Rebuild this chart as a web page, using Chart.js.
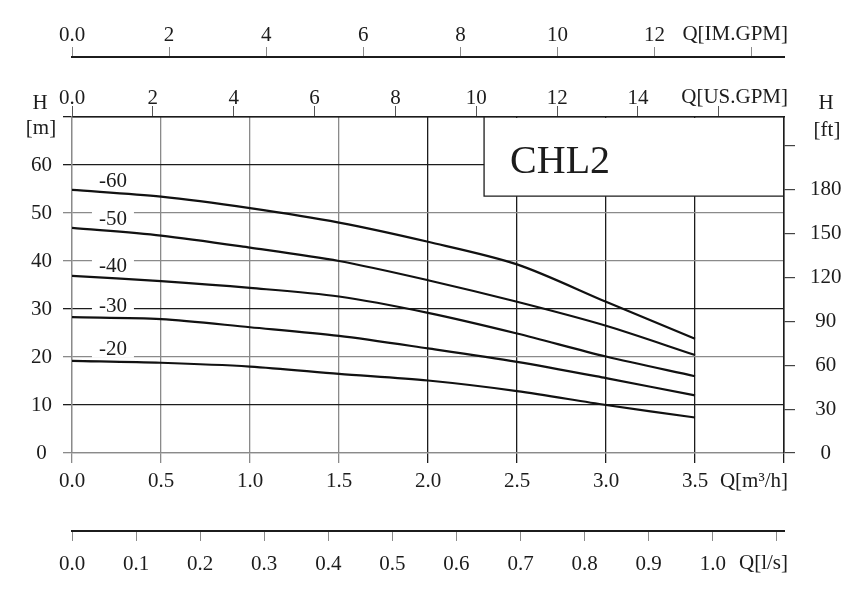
<!DOCTYPE html>
<html>
<head>
<meta charset="utf-8">
<script src="https://cdn.jsdelivr.net/npm/chart.js@4.4.1/dist/chart.umd.min.js"></script>
<style>
    body { margin: 0; background: #fff; }
    #wrap { width: 856px; height: 594px; }
</style>
</head>
<body>
<div id="wrap"><canvas id="pumpChart" width="856" height="594"></canvas></div>
<script>
// flow in m3/h, head in m
const flowQ = [0, 0.5, 1.0, 1.5, 2.0, 2.5, 3.0, 3.5];
const head60 = [54.8, 53.4, 51.0, 48.0, 44.0, 39.3, 31.5, 23.8];
const head50 = [46.9, 45.3, 42.8, 40.0, 36.0, 31.5, 26.5, 20.4];
const head40 = [36.9, 35.8, 34.4, 32.6, 29.2, 24.9, 20.1, 16.0];
const head30 = [28.3, 27.9, 26.2, 24.4, 21.8, 19.0, 15.6, 12.0];
const head20 = [19.2, 18.8, 18.0, 16.5, 15.1, 12.9, 10.0, 7.4];
const curveNames = ['-60', '-50', '-40', '-30', '-20'];
const modelName = 'CHL2';

const qMax = 4.0;
const hMax = 70;
// unit conversions
const toUSGPM = 4.4029;
const toIMGPM = 3.6662;
const toLs = 1 / 3.6;
const toFt = 3.28084;

const serif = '"Liberation Serif", "Times New Roman", serif';
const ink = '#1c1c1c';
const gray = '#8a8a8a';

function fixHeight(h) {
    return function (scale) { scale.height = h; };
}
function fixWidth(w) {
    return function (scale) { scale.width = w; };
}

// box with model name, curve labels and unit captions
const pumpDecor = {
    id: 'pumpDecor',
    beforeDatasetsDraw(chart) {
        const { ctx, chartArea, scales } = chart;
        const left = scales.x.getPixelForValue(2.315);
        const bottom = scales.y.getPixelForValue(53.5);
        ctx.save();
        ctx.fillStyle = '#fff';
        ctx.fillRect(left, chartArea.top + 1, chartArea.right - left - 1, bottom - chartArea.top - 1);
        ctx.strokeStyle = ink;
        ctx.lineWidth = 1.3;
        ctx.beginPath();
        ctx.moveTo(left, chartArea.top);
        ctx.lineTo(left, bottom);
        ctx.lineTo(chartArea.right, bottom);
        ctx.stroke();
        ctx.fillStyle = ink;
        ctx.font = '40px ' + serif;
        ctx.textAlign = 'left';
        ctx.textBaseline = 'alphabetic';
        ctx.fillText(modelName, left + 26, bottom - 23);
        ctx.restore();
    },
    afterDatasetsDraw(chart) {
        const { ctx, scales } = chart;
        const labelQ = 0.23;
        ctx.save();
        ctx.font = '21px ' + serif;
        ctx.textAlign = 'center';
        ctx.textBaseline = 'middle';
        chart.data.datasets.forEach(function (ds, i) {
            const d = ds.data;
            const h = d[0].y + (d[1].y - d[0].y) * (labelQ - d[0].x) / (d[1].x - d[0].x);
            const px = scales.x.getPixelForValue(labelQ);
            const py = scales.y.getPixelForValue(h) - 12;
            ctx.fillStyle = '#fff';
            ctx.fillRect(px - 21, py - 8, 42, 16);
            ctx.fillStyle = ink;
            ctx.fillText(curveNames[i], px, py);
        });
        ctx.restore();
    },
    afterDraw(chart) {
        const { ctx, chartArea, scales } = chart;
        ctx.save();
        ctx.font = '21px ' + serif;
        ctx.fillStyle = ink;
        ctx.textBaseline = 'middle';
        ctx.textAlign = 'right';
        const rx = chartArea.right + 4;
        ctx.fillText('Q[IM.GPM]', rx, scales.xIM.bottom - 23);
        ctx.fillText('Q[US.GPM]', rx, scales.xUS.bottom - 20);
        ctx.fillText('Q[m\u00B3/h]', rx, scales.x.top + 28);
        ctx.fillText('Q[l/s]', rx, scales.xLs.top + 32);
        ctx.textAlign = 'center';
        ctx.fillText('H', 40, chartArea.top - 14);
        ctx.fillText('[m]', 41, chartArea.top + 11);
        ctx.fillText('H', 826, chartArea.top - 14);
        ctx.fillText('[ft]', 827, chartArea.top + 13);
        ctx.restore();
    }
};

function makeCurve(values) {
    return {
        data: flowQ.map(function (q, i) { return { x: q, y: values[i] }; }),
        borderColor: '#111',
        borderWidth: 2.2,
        pointRadius: 0,
        tension: 0.3,
        fill: false,
        xAxisID: 'x',
        yAxisID: 'y'
    };
}

const tickFont = { family: serif, size: 21 };

const config = {
    type: 'line',
    data: {
        datasets: [
            makeCurve(head60),
            makeCurve(head50),
            makeCurve(head40),
            makeCurve(head30),
            makeCurve(head20)
        ]
    },
    options: {
        responsive: false,
        animation: false,
        layout: { padding: 0 },
        plugins: {
            legend: { display: false },
            tooltip: { enabled: false },
            title: { display: false }
        },
        scales: {
            x: {
                type: 'linear',
                position: 'bottom',
                min: 0,
                max: qMax,
                weight: 0,
                afterFit: fixHeight(78),
                ticks: {
                    stepSize: 0.5,
                    font: tickFont,
                    color: ink,
                    padding: 6,
                    maxRotation: 0,
                    autoSkip: false,
                    callback: function (v) { return v >= 3.99 ? '' : v.toFixed(1); }
                },
                grid: {
                    color: function (c) { return c.tick && c.tick.value >= 2 ? ink : gray; },
                    lineWidth: 1.3,
                    tickLength: 10
                },
                border: { display: true, color: gray, width: 1.3 }
            },
            xLs: {
                type: 'linear',
                position: 'bottom',
                min: 0,
                max: qMax * toLs,
                weight: 1,
                afterFit: fixHeight(63),
                ticks: {
                    stepSize: 0.1,
                    includeBounds: false,
                    font: tickFont,
                    color: ink,
                    padding: 11,
                    maxRotation: 0,
                    autoSkip: false,
                    callback: function (v) { return v > 1.05 ? '' : v.toFixed(1); }
                },
                grid: { drawOnChartArea: false, tickLength: 10, tickColor: gray, lineWidth: 1 },
                border: { display: true, color: ink, width: 2 }
            },
            xUS: {
                type: 'linear',
                position: 'top',
                min: 0,
                max: qMax * toUSGPM,
                weight: 0,
                afterFit: fixHeight(60),
                ticks: {
                    stepSize: 2,
                    includeBounds: false,
                    font: tickFont,
                    color: ink,
                    padding: -5,
                    maxRotation: 0,
                    autoSkip: false,
                    callback: function (v) { return v > 15 ? '' : (v === 0 ? '0.0' : String(v)); }
                },
                grid: { drawOnChartArea: false, tickLength: 11, tickColor: '#555', lineWidth: 1 },
                border: { display: true, color: ink, width: 1.5 }
            },
            xIM: {
                type: 'linear',
                position: 'top',
                min: 0,
                max: qMax * toIMGPM,
                weight: 1,
                afterFit: fixHeight(57),
                ticks: {
                    stepSize: 2,
                    includeBounds: false,
                    font: tickFont,
                    color: ink,
                    padding: -1,
                    maxRotation: 0,
                    autoSkip: false,
                    callback: function (v) { return v > 13 ? '' : (v === 0 ? '0.0' : String(v)); }
                },
                grid: { drawOnChartArea: false, tickLength: 10, tickColor: gray, lineWidth: 1 },
                border: { display: true, color: ink, width: 2 }
            },
            y: {
                type: 'linear',
                position: 'left',
                min: 0,
                max: hMax,
                afterFit: fixWidth(72),
                ticks: {
                    stepSize: 10,
                    font: tickFont,
                    color: ink,
                    padding: 11,
                    crossAlign: 'center',
                    callback: function (v) { return v >= 70 ? '' : v; }
                },
                grid: {
                    color: function (c) {
                        const v = c.tick ? c.tick.value : 0;
                        return (v === 10 || v === 30 || v === 60 || v === 70) ? ink : gray;
                    },
                    lineWidth: 1.3,
                    tickLength: 9
                },
                border: { display: true, color: gray, width: 1.3 }
            },
            yFt: {
                type: 'linear',
                position: 'right',
                min: 0,
                max: hMax * toFt,
                afterFit: fixWidth(72),
                ticks: {
                    stepSize: 30,
                    includeBounds: false,
                    font: tickFont,
                    color: ink,
                    padding: 15,
                    crossAlign: 'center',
                    callback: function (v) { return v > 200 ? '' : v; }
                },
                grid: { drawOnChartArea: false, tickLength: 11, tickColor: '#444', lineWidth: 1.2 },
                border: { display: true, color: ink, width: 1.5 }
            }
        }
    },
    plugins: [pumpDecor]
};

const pumpChart = new Chart(document.getElementById('pumpChart'), config);
</script>
</body>
</html>
